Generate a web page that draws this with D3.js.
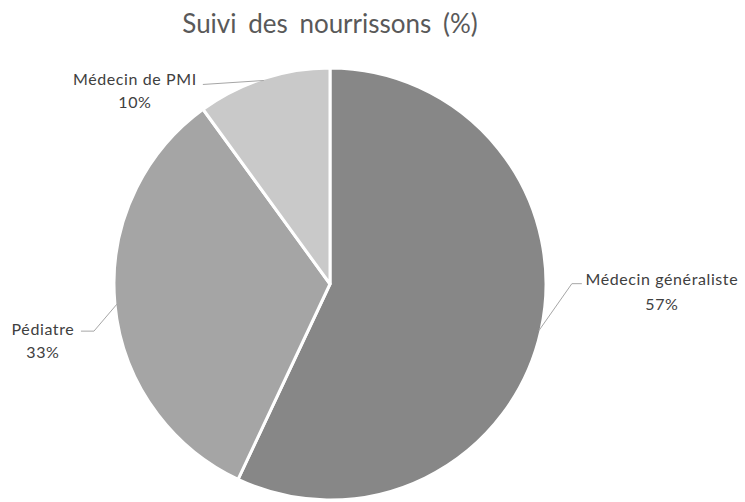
<!DOCTYPE html>
<html>
<head>
<meta charset="UTF-8">
<title>Suivi des nourrissons</title>
<style>
body { margin: 0; background: #fff; }
.title { font-family: Lato, "Open Sans", sans-serif; font-size: 26px; word-spacing: 5px; fill: #595959; }
.lbl { font-family: Lato, "Open Sans", sans-serif; font-size: 16px; letter-spacing: 0.6px; fill: #404040; }
.leader { fill: none; stroke: #a6a6a6; stroke-width: 1px; }
</style>
</head>
<body>
<div class="chart"></div>
<script src="https://cdn.jsdelivr.net/npm/d3@7"></script>
<script>
const categories = ['Médecin généraliste', 'Pédiatre', 'Médecin de PMI'];
const values = [57, 33, 10];
const colors = ['#878787', '#a5a5a5', '#c9c9c9'];

let width = 745, height = 502, cx = 330, cy = 284, radius = 216;

let svg = d3.select('.chart').append('svg')
    .attr('width', width)
    .attr('height', height);

svg.append('text')
    .attr('class', 'title')
    .attr('x', 330)
    .attr('y', 33)
    .attr('text-anchor', 'middle')
    .text('Suivi des nourrissons (%)');

let data = categories.map((c, i) => ({name: c, value: values[i], color: colors[i]}));

let pie = d3.pie().sort(null).value(d => d.value);
let arc = d3.arc().innerRadius(0).outerRadius(radius);
let edge = d3.arc().innerRadius(radius - 2).outerRadius(radius - 2);

let g = svg.append('g').attr('transform', 'translate(' + cx + ',' + cy + ')');

let arcs = pie(data);

g.selectAll('path.slice')
    .data(arcs)
    .enter().append('path')
    .attr('class', 'slice')
    .attr('d', arc)
    .attr('fill', d => d.data.color)
    .attr('stroke', '#fff')
    .attr('stroke-width', 3)
    .attr('stroke-linejoin', 'round');

// leader elbow / text offsets relative to edge point (Excel-like placement)
const layout = [
    {elbow: [33, -47], end: [43, -47], text: [123, -46], gap: 25},
    {elbow: [-23, 27], end: [-36, 27], text: [-74, 31], gap: 23},
    {elbow: [-61, 4], end: [-61, 4], text: [-129, 5], gap: 23}
];

arcs.forEach((d, i) => {
    let p = edge.centroid(d);
    let L = layout[i];
    let pts = [p, [p[0] + L.elbow[0], p[1] + L.elbow[1]], [p[0] + L.end[0], p[1] + L.end[1]]];
    g.append('path')
        .attr('class', 'leader')
        .attr('d', d3.line()(pts));
    let t = g.append('text')
        .attr('class', 'lbl')
        .attr('text-anchor', 'middle')
        .attr('x', p[0] + L.text[0])
        .attr('y', p[1] + L.text[1]);
    t.append('tspan').attr('x', p[0] + L.text[0]).attr('dy', 0).text(d.data.name);
    t.append('tspan').attr('x', p[0] + L.text[0]).attr('dy', L.gap).text(d.data.value + '%');
});
</script>
</body>
</html>
